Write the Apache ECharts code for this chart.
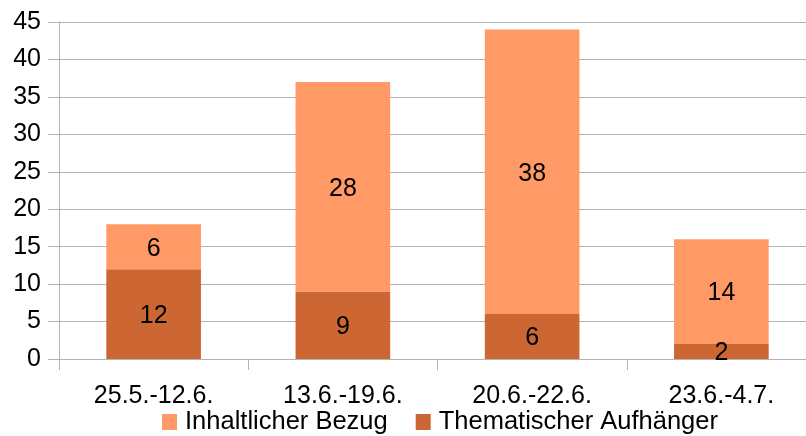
<!DOCTYPE html>
<html>
<head>
<meta charset="utf-8">
<script src="https://cdn.jsdelivr.net/npm/echarts@6/dist/echarts.min.js"></script>
<style>
  html, body { margin: 0; padding: 0; background: #fff; }
  #chart { width: 806px; height: 436px; }
</style>
</head>
<body>
<div id="chart"></div>
<script>
// Zeiträume (Kategorien)
const categories = ['25.5.-12.6.', '13.6.-19.6.', '20.6.-22.6.', '23.6.-4.7.'];
// Anzahl je Zeitraum
const thematischerAufhaenger = [12, 9, 6, 2];
const inhaltlicherBezug = [6, 28, 38, 14];
// Beschriftungen der Werteachse
const yTicks = [0, 5, 10, 15, 20, 25, 30, 35, 40, 45];

const FONT = '"Liberation Sans", Arial, sans-serif';
const GRAY = '#b3b3b3';

const chart = echarts.init(document.getElementById('chart'), null, { renderer: 'canvas' });

const labelStyle = {
  show: true,
  position: 'inside',
  offset: [0, 2],
  color: '#000',
  fontFamily: FONT,
  fontSize: 25
};

chart.setOption({
  animation: false,
  textStyle: { fontFamily: FONT },
  // Die Zeichenfläche reicht rechts etwas über den sichtbaren Rand hinaus
  grid: {
    left: 59, top: 22, width: 757, height: 337,
    containLabel: false,
    outerBoundsMode: 'none'
  },
  legend: {
    data: ['Inhaltlicher Bezug', 'Thematischer Aufhänger'],
    left: 162,
    top: 409,
    padding: 0,
    itemWidth: 15,
    itemHeight: 16,
    itemGap: 28,
    icon: 'rect',
    textStyle: { color: '#000', fontSize: 25.5, fontFamily: FONT, padding: [0, 0, 0, 3] }
  },
  xAxis: {
    type: 'category',
    data: categories,
    axisLine: { lineStyle: { color: GRAY, width: 1 } },
    axisTick: { show: true, length: 11, alignWithLabel: false, lineStyle: { color: GRAY } },
    axisLabel: { color: '#000', fontSize: 25, fontFamily: FONT, margin: 25 },
    splitLine: { show: false }
  },
  yAxis: {
    type: 'value',
    min: yTicks[0],
    max: yTicks[yTicks.length - 1],
    interval: 5,
    axisLine: { show: true, lineStyle: { color: GRAY, width: 1 } },
    axisTick: { show: true, length: 11, lineStyle: { color: GRAY } },
    axisLabel: { color: '#000', fontSize: 25, fontFamily: FONT, margin: 18 },
    splitLine: { show: true, lineStyle: { color: GRAY, width: 1 } }
  },
  series: [
    {
      name: 'Thematischer Aufhänger',
      type: 'bar',
      stack: 'gesamt',
      data: thematischerAufhaenger,
      barWidth: '50%',
      itemStyle: { color: '#cc6633' },
      label: labelStyle
    },
    {
      name: 'Inhaltlicher Bezug',
      type: 'bar',
      stack: 'gesamt',
      data: inhaltlicherBezug,
      barWidth: '50%',
      itemStyle: { color: '#ff9966' },
      label: labelStyle
    }
  ]
});
</script>
</body>
</html>
